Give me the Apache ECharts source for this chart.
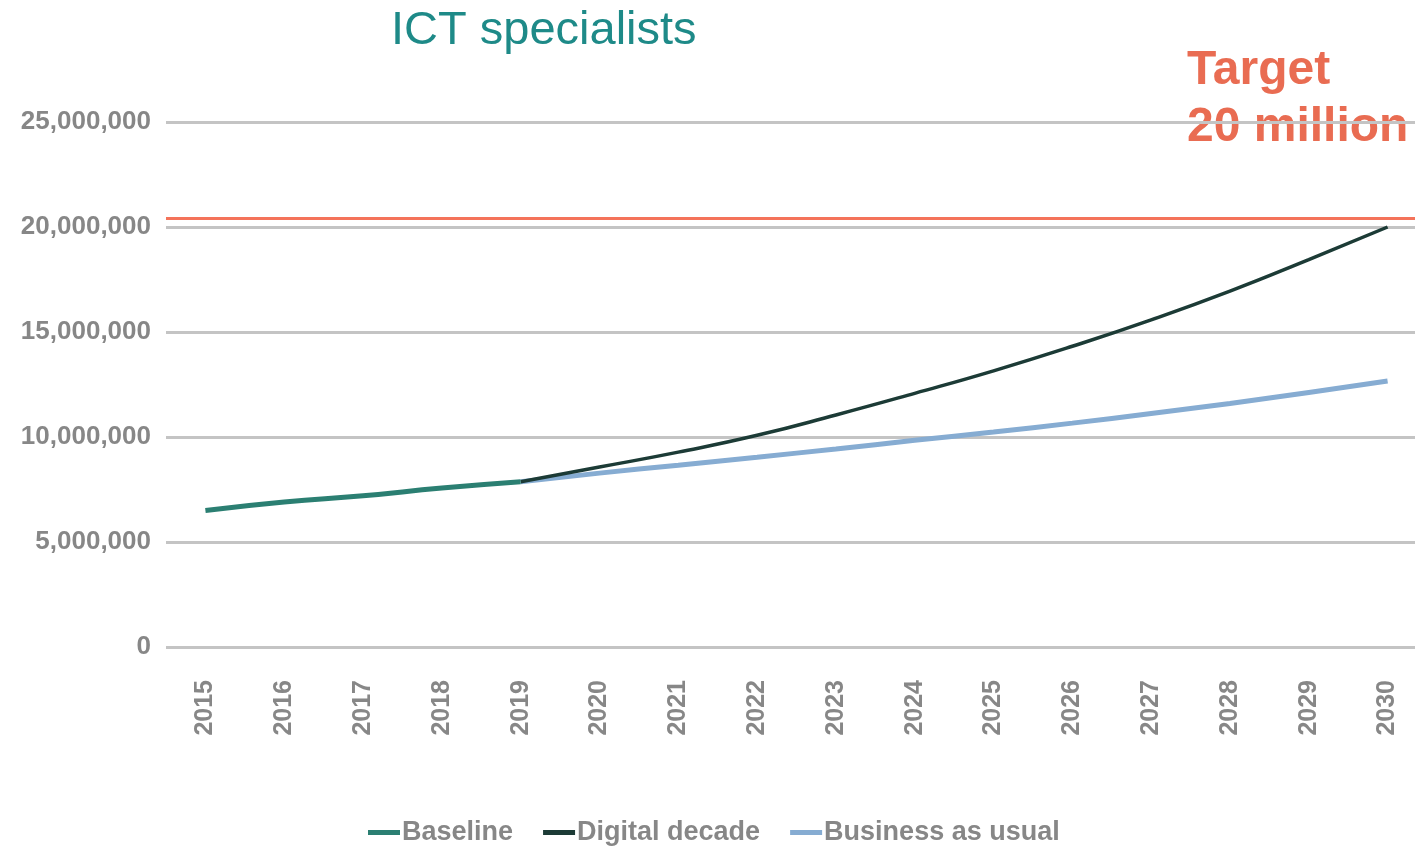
<!DOCTYPE html>
<html>
<head>
<meta charset="utf-8">
<script src="https://cdn.jsdelivr.net/npm/echarts@6/dist/echarts.min.js"></script>
<style>html,body{margin:0;padding:0;background:#fff}#c{width:1415px;height:847px}</style>
</head>
<body>
<div id="c"></div>
<script>
const years = ['2015','2016','2017','2018','2019','2020','2021','2022','2023','2024','2025','2026','2027','2028','2029','2030'];
const baseline = [6500000, 6900000, 7200000, 7570000, 7870000, null, null, null, null, null, null, null, null, null, null, null];
const digitalDecade = [null, null, null, null, 7870000, 8570000, 9280000, 10080000, 11050000, 12080000, 13150000, 14320000, 15580000, 16950000, 18450000, 20000000];
const businessAsUsual = [null, null, null, null, 7870000, 8280000, 8660000, 9040000, 9430000, 9840000, 10240000, 10660000, 11120000, 11600000, 12120000, 12670000];
const targetValue = 20400000;

const chart = echarts.init(document.getElementById('c'));
const gray = '#878787';
const font = '"Liberation Sans", Arial, sans-serif';
chart.setOption({
  animation: false,
  backgroundColor: '#fff',
  title: {
    text: 'ICT specialists',
    left: 386, top: 3,
    textStyle: {fontFamily: font, fontSize: 47, fontWeight: 'normal', color: '#1e8a88'}
  },
  graphic: [{
    type: 'text', left: 1187, top: 42,
    style: {
      text: 'Target\n20 million',
      font: 'bold 48px "Liberation Sans", Arial, sans-serif',
      fill: '#e96c52', lineHeight: 57
    }
  }],
  legend: {
    top: 814, left: 363,
    itemWidth: 32, itemHeight: 5, itemGap: 30,
    icon: 'rect',
    textStyle: {fontFamily: font, fontSize: 27, fontWeight: 'bold', color: gray, padding: [0, 0, 0, -3]},
    data: ['Baseline', 'Digital decade', 'Business as usual']
  },
  grid: {left: 166, width: 1261, top: 122, height: 525, outerBoundsMode: 'none', containLabel: false},
  xAxis: {
    type: 'category', data: years, boundaryGap: true,
    axisLine: {show: false}, axisTick: {show: false},
    axisLabel: {rotate: 90, margin: 33, fontFamily: font, fontSize: 25, fontWeight: 'bold', color: gray}
  },
  yAxis: {
    type: 'value', min: 0, max: 25000000, interval: 5000000,
    axisLine: {show: false}, axisTick: {show: false},
    splitLine: {lineStyle: {color: '#c4c4c4', width: 3}},
    axisLabel: {
      margin: 15, fontFamily: font, fontSize: 26, fontWeight: 'bold', color: gray,
      formatter: v => v.toLocaleString('en-US')
    }
  },
  series: [
    {
      name: 'Business as usual', type: 'line', data: businessAsUsual, smooth: true,
      showSymbol: false, symbol: 'none', z: 2,
      lineStyle: {color: '#86acd2', width: 5}, itemStyle: {color: '#86acd2'}
    },
    {
      name: 'Digital decade', type: 'line', data: digitalDecade, smooth: true,
      showSymbol: false, symbol: 'none', z: 3,
      lineStyle: {color: '#1c3b36', width: 3.5}, itemStyle: {color: '#1c3b36'},
      markLine: {
        silent: true, symbol: 'none', label: {show: false},
        lineStyle: {color: '#f4735a', width: 3, type: 'solid'},
        data: [{yAxis: targetValue}]
      }
    },
    {
      name: 'Baseline', type: 'line', data: baseline, smooth: true,
      showSymbol: false, symbol: 'none', z: 4,
      lineStyle: {color: '#2b7f72', width: 5}, itemStyle: {color: '#2b7f72'}
    }
  ]
});
</script>
</body>
</html>
